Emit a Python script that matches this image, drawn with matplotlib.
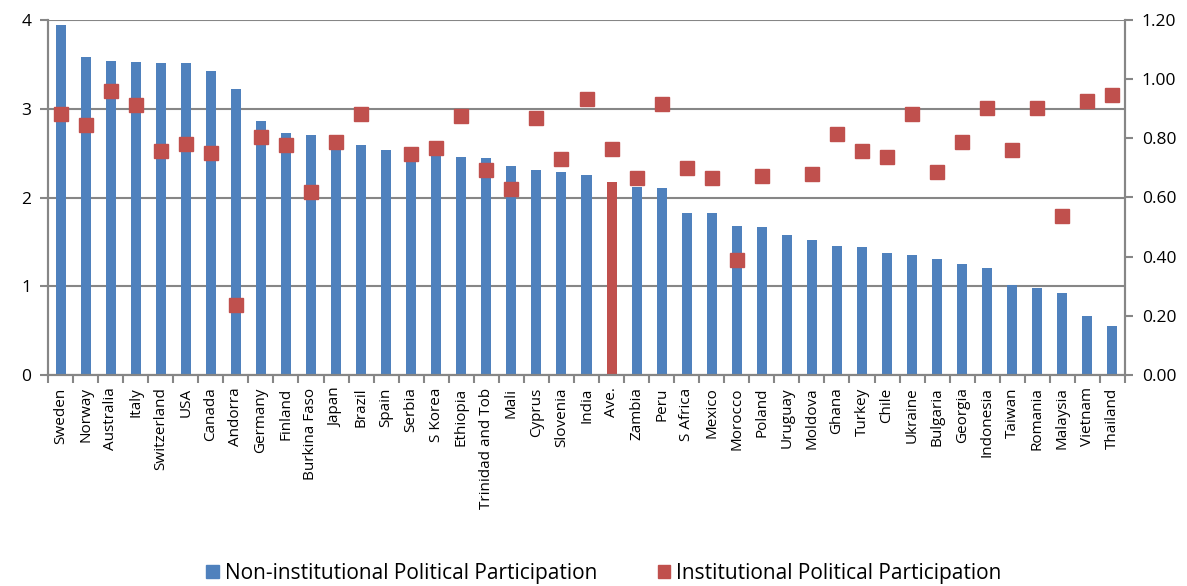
import numpy as np
import matplotlib.pyplot as plt

countries = ['Sweden', 'Norway', 'Australia', 'Italy', 'Switzerland', 'USA', 'Canada',
             'Andorra', 'Germany', 'Finland', 'Burkina Faso', 'Japan', 'Brazil', 'Spain',
             'Serbia', 'S Korea', 'Ethiopia', 'Trinidad and Tob', 'Mali', 'Cyprus',
             'Slovenia', 'India', 'Ave.', 'Zambia', 'Peru', 'S Africa', 'Mexico',
             'Morocco', 'Poland', 'Uruguay', 'Moldova', 'Ghana', 'Turkey', 'Chile',
             'Ukraine', 'Bulgaria', 'Georgia', 'Indonesia', 'Taiwan', 'Romania',
             'Malaysia', 'Vietnam', 'Thailand']

# non-institutional participation (left axis)
non_inst = [3.94, 3.58, 3.54, 3.53, 3.52, 3.51, 3.43, 3.22, 2.86, 2.73, 2.70, 2.63,
            2.59, 2.54, 2.50, 2.47, 2.46, 2.45, 2.35, 2.31, 2.29, 2.25, 2.17, 2.12,
            2.11, 1.83, 1.82, 1.68, 1.67, 1.58, 1.52, 1.45, 1.44, 1.38, 1.35, 1.31,
            1.25, 1.21, 1.01, 0.98, 0.92, 0.66, 0.55]

# institutional participation (right axis); Spain and Uruguay have no value
inst = [0.882, 0.845, 0.961, 0.912, 0.757, 0.782, 0.752, 0.238, 0.805, 0.778, 0.620,
        0.788, 0.882, np.nan, 0.747, 0.769, 0.875, 0.694, 0.629, 0.868, 0.730, 0.932,
        0.764, 0.667, 0.915, 0.700, 0.665, 0.390, 0.673, np.nan, 0.678, 0.816, 0.757,
        0.737, 0.882, 0.687, 0.788, 0.904, 0.760, 0.903, 0.538, 0.927, 0.946]

blue = '#4F81BD'
red = '#C0504D'
grey = '#868686'

plt.rcParams['font.family'] = ['Open Sans', 'DejaVu Sans']

fig = plt.figure(figsize=(11.87, 5.86), dpi=100)
ax = fig.add_axes([48 / 1187, 1 - 375 / 586, (1125 - 48) / 1187, 355 / 586])
ax2 = ax.twinx()

x = np.arange(len(countries))
colors = [red if c == 'Ave.' else blue for c in countries]
ax.bar(x, non_inst, width=0.4, color=colors, zorder=2)
ax2.plot(x, inst, linestyle='none', marker='s', markersize=9.5, color=red, zorder=3)

ax.set_xlim(-0.5, len(countries) - 0.5)
ax.set_ylim(0, 4)
ax2.set_ylim(0, 1.2)
ax.set_yticks([0, 1, 2, 3, 4])
ax2.set_yticks(np.arange(0, 1.21, 0.2))
ax2.set_yticklabels([f'{v:.2f}' for v in np.arange(0, 1.21, 0.2)])

ax.yaxis.grid(True, color=grey, linewidth=1.5, zorder=0)
ax.set_axisbelow(True)

# category labels centred under bars, tick marks on category boundaries
ax.set_xticks(x)
ax.set_xticklabels(countries, rotation=90, fontsize=11)
ax.set_xticks(np.arange(-0.5, len(countries)), minor=True)
ax.tick_params(axis='x', which='major', length=0, pad=9)
ax.tick_params(axis='x', which='minor', length=6, color=grey, width=1.5)
ax.tick_params(axis='y', length=6, color=grey, width=1.5, labelsize=12.5, pad=6)
ax2.tick_params(axis='y', length=6, color=grey, width=1.5, labelsize=12.5, pad=6)

for a in (ax, ax2):
    a.spines['top'].set_visible(False)
    for s in ('left', 'right', 'bottom'):
        a.spines[s].set_color(grey)
        a.spines[s].set_linewidth(1.5)

handles = [plt.Rectangle((0, 0), 1, 1, color=blue), plt.Rectangle((0, 0), 1, 1, color=red)]
fig.legend(handles, ['Non-institutional Political Participation',
                     'Institutional Political Participation'],
           loc='center', bbox_to_anchor=(604 / 1187, 1 - 573 / 586), ncol=2, frameon=False,
           fontsize=15, handlelength=0.6, handleheight=0.6, handletextpad=0.3,
           columnspacing=2.9)

fig.savefig('out.png', dpi=100)
